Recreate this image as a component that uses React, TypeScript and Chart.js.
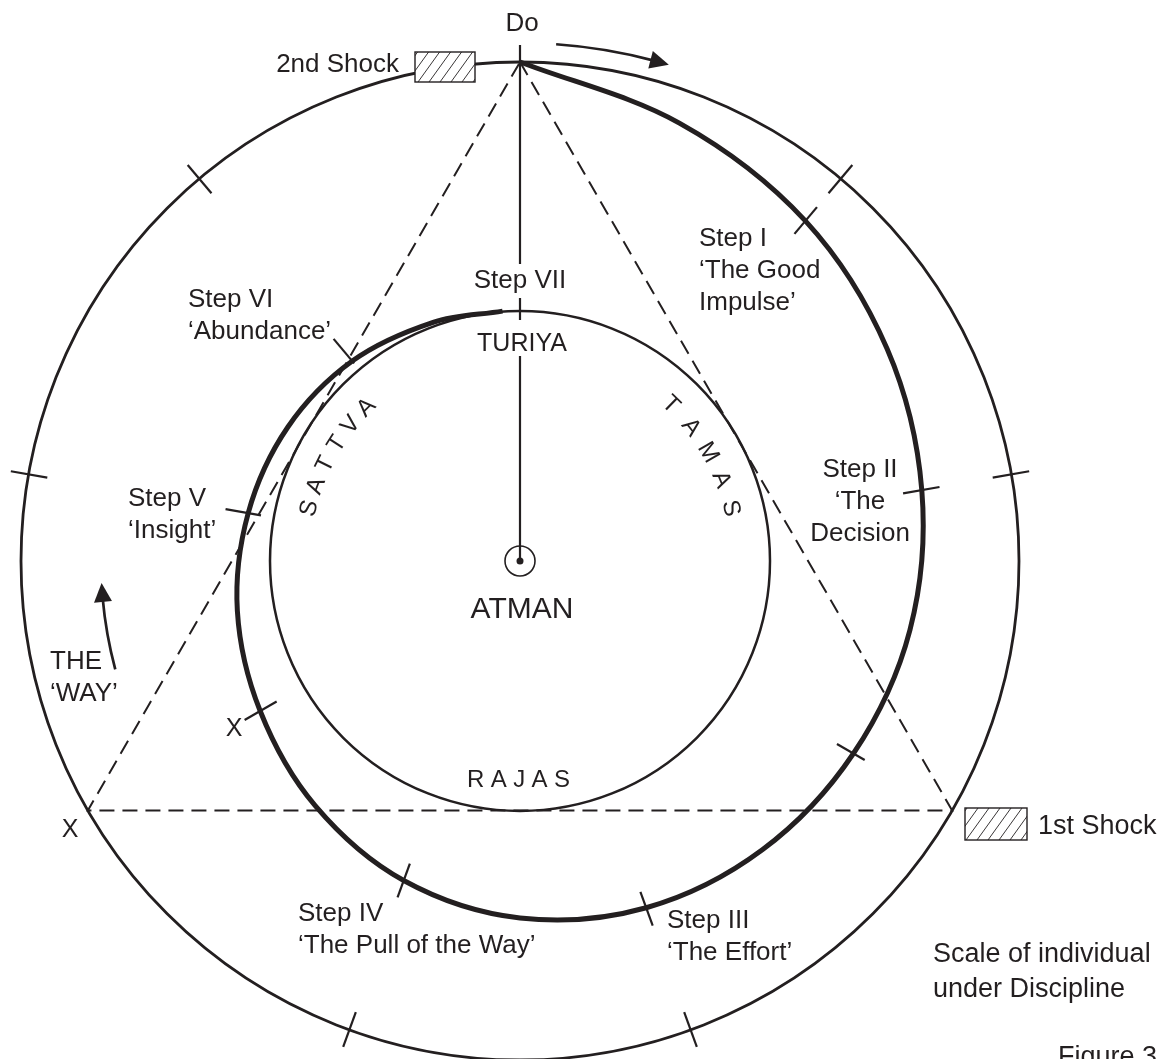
import React, { useEffect, useRef } from "react";
import { Chart, registerables } from "chart.js";

Chart.register(...registerables);

const INK = "#231f20";
const FONT = "'Liberation Sans', Arial, Helvetica, sans-serif";

// ---------- geometry (chart units; centre of the circles is 0,0, y up, angles clockwise from top)
const OUTER_RADIUS = 499;
const INNER_RADIUS = 250;
const ATMAN_RING_RADIUS = 15;
const ATMAN_DOT_RADIUS = 3.5;

const TRIANGLE_ANGLES = [0, 120, 240, 360];
const OUTER_TICK_ANGLES = [40, 80, 160, 200, 280, 320];
const OUTER_TICK_SPAN = [480, 517];

const SPIRAL_ANGLES = [0, 20, 40, 60, 80, 100, 120, 140, 160, 180, 200, 220, 240, 260, 280, 300, 320, 340, 356];
const SPIRAL_RADII = [499, 466, 444, 424, 408, 396, 385, 377, 369, 357, 340, 319, 300, 287, 276, 268, 261, 254, 250.5];

const STEP_TICK_ANGLES = [40, 80, 120, 160, 200, 240, 280, 320];
const STEP_TICK_INNER = [427, 389, 366, 352, 322, 281, 263, 258];
const STEP_TICK_OUTER = [462, 426, 398, 388, 358, 318, 299, 290];

// vertical line from "Do" to the Atman, broken where labels sit
const AXIS_SEGMENTS = [
  [516, 297],
  [263, 241],
  [205, 0],
];

// ---------- texts
const STEP_NAMES = ["Step I", "Step II", "Step III", "Step IV", "Step V", "Step VI", "Step VII"];
const STEP_TITLES = [
  ["\u2018The Good", "Impulse\u2019"],
  ["\u2018The", "Decision"],
  ["\u2018The Effort\u2019"],
  ["\u2018The Pull of the Way\u2019"],
  ["\u2018Insight\u2019"],
  ["\u2018Abundance\u2019"],
  [],
];
const SATTVA = "SATTVA";
const TAMAS = "TAMAS";
const RAJAS = "RAJAS";
const SATTVA_ANGLES = [284, 290.2, 296.4, 302.6, 308.8, 315];
const TAMAS_ANGLES = [44, 52, 60, 68, 76];
const GUNA_RADIUS = 217;

const SHOCK_LABELS = ["2nd Shock", "1st Shock"];
const WAY_LABEL = ["THE", "\u2018WAY\u2019"];
const SCALE_LABEL = ["Scale of individual", "under Discipline"];

// ---------- layout of labels / decorations (chart units)
const STEP_LABEL_POS = [
  { x: 179, y: 324, align: "left" },
  { x: 340, y: 93, align: "center" },
  { x: 147, y: -358, align: "left" },
  { x: -222, y: -351, align: "left" },
  { x: -392, y: 64, align: "left" },
  { x: -332, y: 263, align: "left" },
  { x: 0, y: 282, align: "center" },
];
const SHOCK_BOXES = [
  { x0: -105, y0: 509, x1: -45, y1: 479 },
  { x0: 445, y0: -247, x1: 507, y1: -279 },
];
const ARROW_ARCS = [
  { r: 518, from: 4, to: 16.7 },
  { r: 419, from: 255, to: 267 },
];

const rad = (d: number) => (d * Math.PI) / 180;
const polar = (deg: number, r: number) => ({ x: r * Math.sin(rad(deg)), y: r * Math.cos(rad(deg)) });

function segment(a: { x: number; y: number }, b: { x: number; y: number }, width: number, dash: number[] = []) {
  return {
    data: [a, b],
    showLine: true,
    borderColor: INK,
    borderWidth: width,
    borderDash: dash,
    pointRadius: 0,
    tension: 0,
    borderCapStyle: "butt",
  };
}

const diagramPlugin = {
  id: "diagram",
  beforeDatasetsDraw(chart: any) {
    const { ctx, scales } = chart;
    const px = (v: number) => scales.x.getPixelForValue(v);
    const py = (v: number) => scales.y.getPixelForValue(v);
    const k = px(1) - px(0);
    const cx = px(0);
    const cy = py(0);
    ctx.save();
    ctx.strokeStyle = INK;
    ctx.lineWidth = 2.8;
    ctx.beginPath();
    ctx.arc(cx, cy, OUTER_RADIUS * k, 0, Math.PI * 2);
    ctx.stroke();
    ctx.lineWidth = 2.5;
    ctx.beginPath();
    ctx.arc(cx, cy, INNER_RADIUS * k, 0, Math.PI * 2);
    ctx.stroke();
    ctx.restore();
  },
  afterDatasetsDraw(chart: any) {
    const { ctx, scales } = chart;
    const px = (v: number) => scales.x.getPixelForValue(v);
    const py = (v: number) => scales.y.getPixelForValue(v);
    const k = px(1) - px(0);
    const cx = px(0);
    const cy = py(0);
    ctx.save();
    ctx.strokeStyle = INK;
    ctx.fillStyle = INK;

    // Atman ring and dot
    ctx.lineWidth = 1.6;
    ctx.beginPath();
    ctx.arc(cx, cy, ATMAN_RING_RADIUS * k, 0, Math.PI * 2);
    ctx.stroke();
    ctx.beginPath();
    ctx.arc(cx, cy, ATMAN_DOT_RADIUS * k, 0, Math.PI * 2);
    ctx.fill();

    // curved arrows
    ARROW_ARCS.forEach((a) => {
      const headLen = 19;
      const headDeg = (headLen / (a.r * k)) * (180 / Math.PI);
      ctx.lineWidth = 2.7;
      ctx.beginPath();
      ctx.arc(cx, cy, a.r * k, rad(a.from - 90), rad(a.to - headDeg + 0.5 - 90));
      ctx.stroke();
      const tip = polar(a.to, a.r);
      const bIn = polar(a.to - headDeg, a.r - 9);
      const bOut = polar(a.to - headDeg, a.r + 9);
      ctx.beginPath();
      ctx.moveTo(px(tip.x), py(tip.y));
      ctx.lineTo(px(bIn.x), py(bIn.y));
      ctx.lineTo(px(bOut.x), py(bOut.y));
      ctx.closePath();
      ctx.fill();
    });

    // hatched shock boxes
    SHOCK_BOXES.forEach((b) => {
      const x = px(b.x0);
      const y = py(b.y0);
      const w = px(b.x1) - x;
      const h = py(b.y1) - y;
      ctx.save();
      ctx.beginPath();
      ctx.rect(x, y, w, h);
      ctx.fillStyle = "#ffffff";
      ctx.fill();
      ctx.clip();
      ctx.lineWidth = 0.9;
      ctx.beginPath();
      for (let t = -h; t < w + h; t += 11) {
        ctx.moveTo(x + t, y + h);
        ctx.lineTo(x + t + h * 0.72, y);
      }
      ctx.stroke();
      ctx.restore();
      ctx.lineWidth = 1.4;
      ctx.strokeRect(x, y, w, h);
    });

    const text = (s: string, x: number, y: number, size: number, align: string) => {
      ctx.font = `${size}px ${FONT}`;
      ctx.textAlign = align;
      ctx.textBaseline = "alphabetic";
      ctx.fillText(s, px(x), py(y) + size * 0.36);
    };

    // step labels
    STEP_NAMES.forEach((name, i) => {
      const p = STEP_LABEL_POS[i];
      [name, ...STEP_TITLES[i]].forEach((line, j) => text(line, p.x, p.y - j * 32, 26, p.align));
    });

    text("Do", 2, 539.5, 26, "center");
    text(SHOCK_LABELS[0], -121, 498.5, 26, "right");
    text(SHOCK_LABELS[1], 518, -263, 27, "left");
    text("TURIYA", 2, 219, 25, "center");
    text("ATMAN", 2, -46, 30, "center");
    text("X", -286, -166, 25, "center");
    text("X", -450, -267, 25, "center");
    WAY_LABEL.forEach((s, j) => text(s, -470, -99 - j * 32, 26, "left"));
    SCALE_LABEL.forEach((s, j) => text(s, 413, -391 - j * 35, 27, "left"));
    text("Figure 3", 637, -494, 27, "right");

    // gunas
    ctx.font = `24px ${FONT}`;
    ctx.textAlign = "center";
    ctx.textBaseline = "middle";
    const curved = (word: string, angles: number[]) => {
      word.split("").forEach((ch, i) => {
        const p = polar(angles[i], GUNA_RADIUS);
        ctx.save();
        ctx.translate(px(p.x), py(p.y));
        ctx.rotate(rad(angles[i]));
        ctx.fillText(ch, 0, 0);
        ctx.restore();
      });
    };
    curved(SATTVA, SATTVA_ANGLES);
    curved(TAMAS, TAMAS_ANGLES);
    const gap = 6.4;
    const widths = RAJAS.split("").map((ch) => ctx.measureText(ch).width);
    const total = widths.reduce((s, w) => s + w, 0) + gap * (widths.length - 1);
    let xx = px(-1.5) - total / 2;
    ctx.textAlign = "left";
    RAJAS.split("").forEach((ch, i) => {
      ctx.fillText(ch, xx, py(-219));
      xx += widths[i] + gap;
    });

    ctx.restore();
  },
};

export default function App() {
  const ref = useRef<HTMLCanvasElement | null>(null);
  useEffect(() => {
    if (!ref.current) return;
    const datasets: any[] = [];
    datasets.push({
      data: TRIANGLE_ANGLES.map((a) => polar(a, OUTER_RADIUS)),
      showLine: true,
      borderColor: INK,
      borderWidth: 2,
      borderDash: [15, 8],
      pointRadius: 0,
      tension: 0,
    });
    datasets.push({
      data: SPIRAL_ANGLES.map((a, i) => polar(a, SPIRAL_RADII[i])),
      showLine: true,
      borderColor: INK,
      borderWidth: 5,
      pointRadius: 0,
      tension: 0.34,
      borderCapStyle: "butt",
      borderJoinStyle: "round",
    });
    OUTER_TICK_ANGLES.forEach((a) =>
      datasets.push(segment(polar(a, OUTER_TICK_SPAN[0]), polar(a, OUTER_TICK_SPAN[1]), 2.2))
    );
    STEP_TICK_ANGLES.forEach((a, i) =>
      datasets.push(segment(polar(a, STEP_TICK_INNER[i]), polar(a, STEP_TICK_OUTER[i]), 2.2))
    );
    AXIS_SEGMENTS.forEach(([y0, y1]) => datasets.push(segment({ x: 0, y: y0 }, { x: 0, y: y1 }, 2.2)));

    const chart = new Chart(ref.current, {
      type: "scatter",
      data: { datasets },
      options: {
        responsive: false,
        animation: false,
        events: [],
        layout: { padding: 0 },
        plugins: { legend: { display: false }, tooltip: { enabled: false }, title: { display: false } },
        scales: {
          x: { type: "linear", min: -520, max: 647, display: false },
          y: { type: "linear", min: -498, max: 561, display: false },
        },
      },
      plugins: [diagramPlugin],
    } as any);
    return () => chart.destroy();
  }, []);
  return (
    <div style={{ position: "absolute", left: 0, top: 0, width: 1167, height: 1059, background: "#ffffff" }}>
      <canvas ref={ref} width={1167} height={1059} style={{ display: "block" }} />
    </div>
  );
}
